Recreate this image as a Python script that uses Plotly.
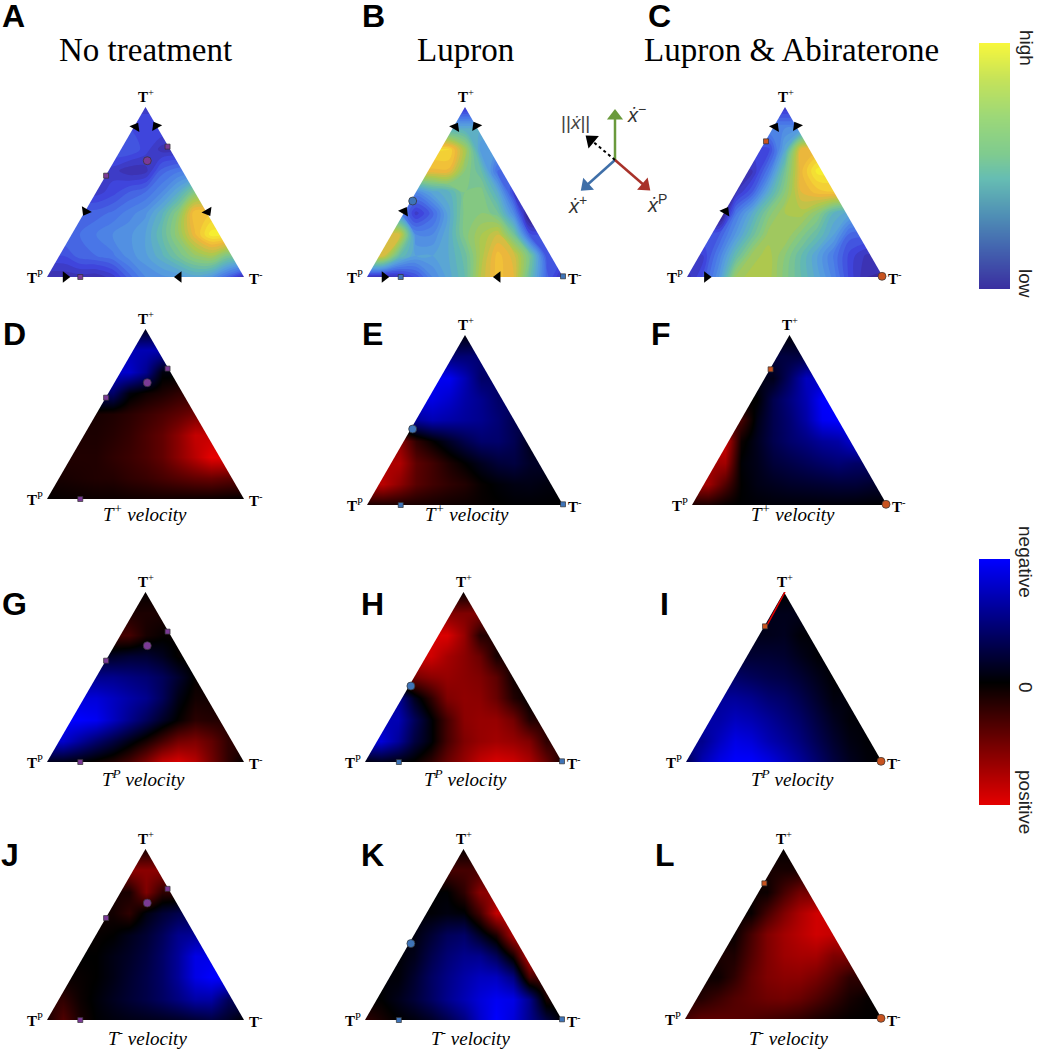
import plotly.graph_objects as go

W, H = 1038, 1050

# ---- values: rows run top (T+) to base, left to right inside the triangle
A_speed = [[.08],[.14],[.18,.12,.04],[.08,.03,.04,.2,.25],[.08,.12,.18,.22,.3,.42,.6],[.2,.23,.28,.33,.45,.62,.9],
           [.22,.26,.3,.33,.38,.5,.65,.85,1.0],[.14,.2,.22,.25,.32,.37,.45,.55,.65,.7,.58],[.03,.03,.04,.03,.08,.2,.3,.33,.35,.4,.35,.2,.02]]
B_speed = [[.06],[.42],[.95,.7,.35],[.85,.85,.62,.5,.22],[.3,.4,.45,.58,.6,.42,.1],[.3,.08,.2,.4,.6,.62,.55,.3,-.1],
           [.8,.3,.3,.42,.6,.7,.78,.55,.15],[.8,.5,.38,.38,.42,.52,.72,.88,.8,.55,.15],[.05,.03,.05,.15,.3,.4,.5,.75,.88,.82,.5,.2,.03]]
C_speed = [[.06],[.3],[.12,.4,.85],[.05,.25,.55,.85,1.0],[.05,.18,.42,.62,.82,.88,.9],[-.1,.25,.42,.6,.7,.72,.62,.45,.4],
           [.18,.35,.52,.68,.7,.6,.5,.38,.2],[.1,.28,.5,.68,.72,.62,.5,.38,.25,.12,.05],[.03,.15,.35,.68,.72,.72,.6,.5,.4,.28,.12,.02,.01]]
D_vel = [[-.1],[-.7],[-.8,-.55,-.05],[-.4,-.05,.06,.12,.2],[.1,.13,.18,.25,.32,.4,.5],[.12,.16,.22,.32,.42,.6,.85],
         [.14,.14,.2,.25,.32,.42,.6,.8,1.0],[.1,.12,.14,.15,.2,.24,.3,.36,.42,.45,.4],[.01,.03,.04,.05,.05,.06,.07,.07,.06,.05,.04,.02,0]]
E_vel = [[-.05],[-.45],[-.95,-.7,-.4],[-.9,-.8,-.65,-.55,-.4],[-.6,-.7,-.65,-.6,-.55,-.45,-.3],[.6,.2,.02,-.15,-.3,-.42,-.42,-.32,-.1],
         [.75,.4,.28,.12,.0,-.12,-.22,-.25,-.15],[.8,.6,.38,.28,.2,.14,.03,-.03,-.07,-.08,-.05],[.1,.1,.1,.1,.08,.06,.05,.03,.01,-.01,-.01,-.01,0]]
F_vel = [[-.03],[-.25],[-.1,-.4,-.75],[0,-.3,-.5,-.7,-1],[.3,-.08,-.3,-.45,-.65,-.95,-1],[.9,.05,-.12,-.3,-.42,-.5,-.6,-.65,-.85],
         [.7,-.02,-.1,-.22,-.28,-.34,-.4,-.45,-.4],[.7,.35,0,-.08,-.12,-.16,-.18,-.2,-.22,-.22,-.18],[.1,.1,.02,-.01,-.02,-.03,-.03,-.03,-.03,-.03,-.02,-.01,0]]
G_vel = [[.02],[.12],[.3,.1,.03],[-.15,-.2,-.2,-.12,.02],[-.55,-.55,-.5,-.45,-.35,-.18,.02],[-.85,-.75,-.65,-.55,-.35,-.08,.08],
         [-1,-.95,-.75,-.55,-.35,-.15,.02,.18,.15],[-.8,-.6,-.42,-.25,-.08,.1,.3,.5,.55,.42,.2],[-.1,-.08,-.02,.06,.15,.3,.55,.85,.95,.8,.5,.2,0]]
H_vel = [[.03],[.55],[.95,.65,.15],[.9,.72,.6,.45,.1],[.5,.6,.65,.6,.55,.4,.06],[-.6,-.12,.2,.55,.62,.6,.45,.15,0],
         [-.7,-.35,-.03,.3,.6,.65,.65,.5,.15],[-.85,-.6,-.25,-.03,.3,.55,.65,.7,.65,.55,.2],[-.05,-.1,-.05,.03,.2,.45,.65,.85,.95,.9,.75,.45,.1]]
I_vel = [[0],[-.1],[-.1,-.12,-.03],[-.2,-.2,-.18,-.1,-.02],[-.4,-.35,-.3,-.27,-.2,-.1,-.01],[-.6,-.55,-.45,-.4,-.3,-.17,-.05],
         [-.65,-.75,-.7,-.6,-.5,-.4,-.25,-.12,-.03],[-.55,-.75,-.9,-.85,-.7,-.6,-.48,-.32,-.18,-.07,-.02],[-.3,-.7,-.9,-1,-1,-.9,-.75,-.6,-.42,-.25,-.12,-.04,0]]
J_vel = [[.1],[.6],[.1,.55,.2],[.08,.2,-.06,-.2,-.3],[.03,0,-.1,-.2,-.35,-.55,-.6],[0,-.08,-.15,-.25,-.4,-.6,-.9],
         [.03,0,-.08,-.18,-.28,-.4,-.6,-.9,-1],[.2,.05,-.03,-.12,-.2,-.28,-.38,-.5,-.65,-.65,-.35],[.1,.35,.1,-.01,-.05,-.08,-.1,-.12,-.15,-.2,-.25,-.15,0]]
K_vel = [[.03],[.3],[-.01,.2,.6],[-.02,-.06,-.03,.3,.85],[-.05,-.2,-.35,-.4,-.15,.12,.75],[-.02,-.1,-.3,-.45,-.55,-.55,-.35,.08,.85],
         [-.03,-.18,-.38,-.52,-.65,-.75,-.75,-.5,.3],[0,-.1,-.22,-.38,-.55,-.7,-.85,-.95,-.9,-.55,.1],[.2,.1,0,-.05,-.15,-.3,-.5,-.8,-1,-.85,-.55,-.25,0]]
L_vel = [[.02],[.1],[.05,.3,.5],[.03,.3,.55,.75,.9],[.03,.3,.55,.7,.8,.9,.85],[.12,.35,.55,.68,.72,.72,.55],
         [.05,.2,.42,.55,.6,.6,.52,.38,.2],[.15,.25,.35,.42,.48,.5,.45,.35,.22,.1,.03],[.3,.4,.4,.38,.35,.3,.25,.2,.12,.06,.02,.01,0]]

grid_x = [k / 12 for k in range(13)]
grid_y = [k / 8 for k in range(9)]

# fixed points (fraction along base, fraction of height)
none_pts = dict(x=[.612, .30, .169], y=[.767, .596, 0], big_x=[.509], big_y=[.684])
lupron_pts = dict(x=[.172, 1.0], y=[0, .004], big_x=[.233], big_y=[.447])
abi_pts = dict(x=[.403], y=[.798], big_x=[.995], big_y=[.004])

# flow arrows on the edges: x, y, heading in degrees
A_flow = ([.45, .553, .196, .816, .093, .67], [.882, .888, .386, .384, 0, 0], [30, -30, 210, 150, 90, -90])
B_flow = ([.451, .556, .19, .088, .668], [.882, .888, .386, 0, 0], [30, -30, 30, 90, -90])
C_flow = ([.45, .56, .197, .1], [.882, .888, .386, 0], [30, -30, 30, 90])

titles = ["No treatment", "Lupron", "Lupron &amp; Abiraterone"]
velocity_labels = ["T<sup>+</sup> velocity", "T<sup>P</sup> velocity", "T<sup>-</sup> velocity"]
speed_levels = [0, 1]
velocity_levels = [-1, 1]

inset_x = {"green": [0, 0], "blue": [0, -29], "red": [0, 30], "black": [0, -24]}
inset_y = {"green": [0, 44], "blue": [0, -26], "red": [0, -26], "black": [0, 20]}

# ---- styles and layout
SPEED = [[0, "#3a2a9e"], [.12, "#3f45dc"], [.25, "#4a7ae8"], [.38, "#58a2dc"], [.48, "#62b8b4"], [.6, "#84c882"],
         [.72, "#aec84e"], [.85, "#f0b63a"], [1, "#f6ee30"]]
SPEED_BAR = [[0, "#3a2ea0"], [.18, "#4468b0"], [.3, "#4f8fb5"], [.45, "#66bdb3"], [.55, "#7fcb8f"], [.7, "#9cd878"],
             [.85, "#c4e25a"], [1, "#f7f73c"]]
VEL = [[0, "#0000ff"], [.5, "#000000"], [1, "#e60000"]]
PURPLE, BLUE, ORANGE = "#7b3a96", "#3f74b8", "#c8531f"

panels = [
    ("A", A_speed, 47, 244, 107, 277, none_pts, PURPLE, A_flow, None),
    ("B", B_speed, 367, 563, 107, 277, lupron_pts, BLUE, B_flow, None),
    ("C", C_speed, 687, 883, 107, 277, abi_pts, ORANGE, C_flow, None),
    ("D", D_vel, 47, 244, 329, 499, none_pts, PURPLE, None, (145, 513, 0)),
    ("E", E_vel, 367, 563, 335, 505, lupron_pts, BLUE, None, (467, 513, 0)),
    ("F", F_vel, 692, 887, 335, 505, abi_pts, ORANGE, None, (793, 513, 0)),
    ("G", G_vel, 47, 244, 592, 762, none_pts, PURPLE, None, (143, 778, 1)),
    ("H", H_vel, 365, 562, 592, 762, lupron_pts, BLUE, None, (465, 778, 1)),
    ("I", I_vel, 686, 882, 592, 762, abi_pts, ORANGE, None, (792, 778, 1)),
    ("J", J_vel, 47, 244, 849, 1020, none_pts, PURPLE, None, (147, 1037, 2)),
    ("K", K_vel, 365, 562, 849, 1020, lupron_pts, BLUE, None, (470, 1037, 2)),
    ("L", L_vel, 685, 882, 849, 1019, abi_pts, ORANGE, None, (788, 1037, 2)),
]
letter_pos = {"A": (13, 16), "B": (373, 16), "C": (659, 16), "D": (14, 334), "E": (372, 334), "F": (661, 334),
              "G": (14, 604), "H": (372, 604), "I": (664, 604), "J": (10, 855), "K": (372, 855), "L": (665, 855)}
bar_labels = [(48, "high"), (283, "low"), (562, "negative"), (687, "0"), (802, "positive")]


def full_grid(rows):
    out = []
    for r in reversed(rows):
        pad = (13 - len(r)) // 2
        out.append([r[0]] * pad + r + [r[-1]] * pad)
    return out


def fx(px):
    return px / W


def fy(py):
    return 1 - py / H


fig = go.Figure()
ann = []
layout = {}


def text(px, py, s, size, family, color="#000", angle=0):
    ann.append(dict(x=fx(px), y=fy(py), xref="paper", yref="paper", text=s, showarrow=False, xanchor="center",
                    yanchor="middle", textangle=angle, font=dict(size=size, family=family, color=color)))


def add_axes(i, x0, x1, y_top, y_bot, xr=(0, 1), yr=(0, 1)):
    sx = "" if i == 1 else str(i)
    opts = dict(visible=False, fixedrange=True)
    layout["xaxis" + sx] = dict(domain=[fx(x0), fx(x1)], range=list(xr), anchor="y" + sx, **opts)
    layout["yaxis" + sx] = dict(domain=[fy(y_bot), fy(y_top)], range=list(yr), anchor="x" + sx, **opts)
    return "x" + sx, "y" + sx


for i, (name, rows, x0, x1, y_top, y_bot, pts, col, flow, sub) in enumerate(panels, start=1):
    xa, ya = add_axes(i, x0, x1, y_top, y_bot)
    z = full_grid(rows)
    if i <= 3:
        fig.add_trace(go.Contour(x=grid_x, y=grid_y, z=z, xaxis=xa, yaxis=ya, colorscale=SPEED, zmin=speed_levels[0],
                                 zmax=speed_levels[1], showscale=False, line_width=0, hoverinfo="skip",
                                 contours=dict(coloring="fill", start=-.02, end=1.02, size=.04, showlines=False)))
    else:
        fig.add_trace(go.Heatmap(x=grid_x, y=grid_y, z=z, xaxis=xa, yaxis=ya, colorscale=VEL, zmin=velocity_levels[0],
                                 zmax=velocity_levels[1], showscale=False, zsmooth="best", hoverinfo="skip"))
    for mx, my in (([0, .5, 0, 0], [0, 1, 1, 0]), ([1, .5, 1, 1], [0, 1, 1, 0])):
        fig.add_trace(go.Scatter(x=mx, y=my, xaxis=xa, yaxis=ya, mode="lines", fill="toself", fillcolor="#fff",
                                 line=dict(width=0), hoverinfo="skip", showlegend=False, cliponaxis=False))
    if name == "I":
        fig.add_trace(go.Scatter(x=[.41, .505], y=[.798, 1], xaxis=xa, yaxis=ya, mode="lines", showlegend=False,
                                 line=dict(color="#e60000", width=1.5), hoverinfo="skip"))
    fig.add_trace(go.Scatter(x=pts["x"], y=pts["y"], xaxis=xa, yaxis=ya, mode="markers", cliponaxis=False,
                             showlegend=False, hoverinfo="skip",
                             marker=dict(symbol="square", size=5, color=col, line=dict(width=.7, color="#333"))))
    fig.add_trace(go.Scatter(x=pts["big_x"], y=pts["big_y"], xaxis=xa, yaxis=ya, mode="markers", cliponaxis=False,
                             showlegend=False, hoverinfo="skip",
                             marker=dict(symbol="circle", size=8, color=col, line=dict(width=.7, color="#333"))))
    if flow:
        fig.add_trace(go.Scatter(x=flow[0], y=flow[1], xaxis=xa, yaxis=ya, mode="markers", cliponaxis=False,
                                 showlegend=False, hoverinfo="skip",
                                 marker=dict(symbol="triangle-up", size=10, color="#000", angle=flow[2])))
    lab = "Liberation Serif"
    text((x0 + x1) / 2 + .5, y_top - 11, "<b>T</b><sup>+</sup>", 15, lab)
    text(x0 - 12, y_bot, "<b>T</b><sup>P</sup>", 15, lab)
    text(x1 + 12, y_bot + 1, "<b>T</b><sup>-</sup>", 15, lab)
    if sub:
        text(sub[0], sub[1], "<i>" + velocity_labels[sub[2]] + "</i>", 19, lab)
    lx, ly = letter_pos[name]
    text(lx, ly, "<b>" + name + "</b>", 32, "Liberation Sans")

for cx, t in zip((145, 465, 791), titles):
    text(cx, 50, t, 33, "Liberation Serif")

# colour bars
xa, ya = add_axes(13, 979, 1010, 43, 289, yr=(0, 1))
fig.add_trace(go.Heatmap(x=[0, 1], y=speed_levels, z=[speed_levels, speed_levels], transpose=True, xaxis=xa, yaxis=ya,
                         colorscale=SPEED_BAR, zmin=0, zmax=1, showscale=False, zsmooth="best", hoverinfo="skip"))
xa, ya = add_axes(14, 979, 1010, 559, 805, yr=(1, -1))
fig.add_trace(go.Heatmap(x=[0, 1], y=velocity_levels, z=[velocity_levels, velocity_levels], transpose=True, xaxis=xa,
                         yaxis=ya, colorscale=VEL, zmin=-1, zmax=1, showscale=False, zsmooth="best", hoverinfo="skip"))
for py, s in bar_labels:
    text(1026, py, s, 19, "Liberation Sans", "#222", 90)

# inset of axes
xa, ya = add_axes(15, 555, 675, 100, 220, xr=(-60, 60), yr=(-60, 60))
inset_colors = {"green": "#6a9a3c", "blue": "#3f6fa8", "red": "#a8322a", "black": "#000"}
for k, c in inset_colors.items():
    fig.add_trace(go.Scatter(x=inset_x[k], y=inset_y[k], xaxis=xa, yaxis=ya, mode="lines+markers", showlegend=False,
                             hoverinfo="skip", cliponaxis=False,
                             line=dict(color=c, width=2.5 if k != "black" else 2, dash="dot" if k == "black" else "solid"),
                             marker=dict(symbol="triangle-up", size=[0, 14], color=c, opacity=1, angleref="previous",
                                         line=dict(width=0))))
text(576, 123, "||<i>ẋ</i>||", 19, "Liberation Sans", "#444")
text(636, 114, "<i>ẋ</i><sup>−</sup>", 20, "Liberation Sans", "#333")
text(577, 204, "<i>ẋ</i><sup>+</sup>", 20, "Liberation Sans", "#333")
text(657, 203, "<i>ẋ</i><sup>P</sup>", 20, "Liberation Sans", "#333")

fig.update_layout(width=W, height=H, margin=dict(l=0, r=0, t=0, b=0), paper_bgcolor="#fff", plot_bgcolor="rgba(0,0,0,0)",
                  showlegend=False, annotations=ann, **layout)
fig.write_html("out.html", config={"displayModeBar": False},
               post_script="document.body.style.margin='0';")
